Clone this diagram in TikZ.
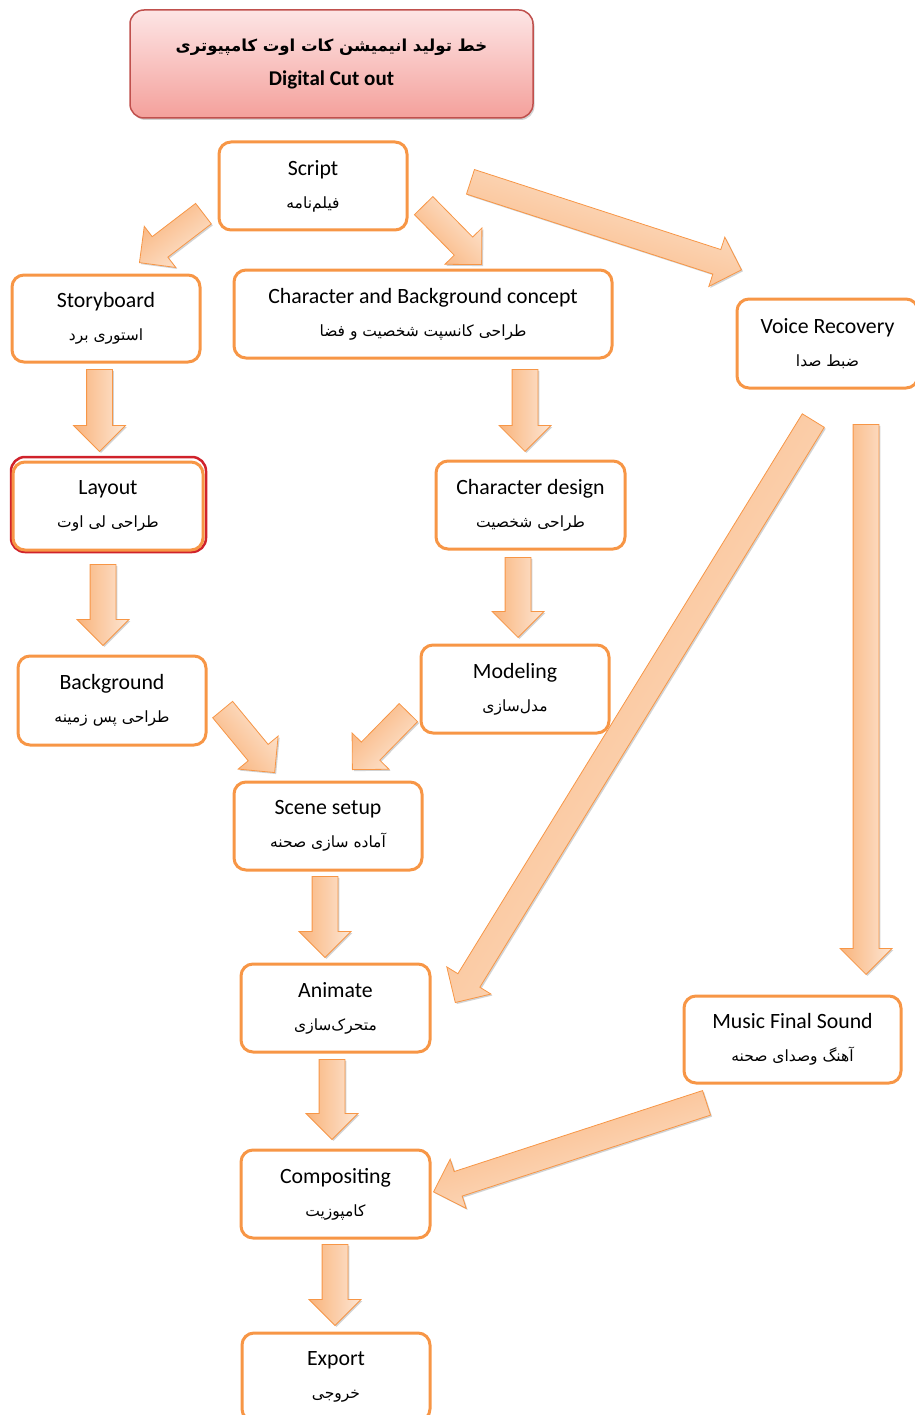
\documentclass[tikz,border=0pt]{standalone}
\usepackage{fontspec}
\setmainfont{Carlito}
\newfontfamily\fafont[Script=Arabic]{DejaVu Sans}
\TeXXeTstate=1
\usetikzlibrary{shapes.arrows,shadows,calc}

\definecolor{boxorange}{HTML}{F79646}
\definecolor{arrdark}{HTML}{F9B37B}
\definecolor{arrlight}{HTML}{FDE6D3}
\definecolor{titletop}{HTML}{FDE5E5}
\definecolor{titlebot}{HTML}{F4A09B}
\definecolor{titleline}{HTML}{C0504D}
\definecolor{layoutred}{HTML}{D0222B}

\newcommand{\fa}[1]{{\fafont\fontsize{15.5}{20}\selectfont\beginR #1\endR}}
\newcommand{\blockarr}[2]{%
  \path let \p1=($(#2)-(#1)$), \n1={veclen(\x1,\y1)}, \n2={atan2(\y1,\x1)-180} in
    (#1) -- node[bigarrow, shading angle=\n2, sloped, allow upside down, pos=1, anchor=tip,
      minimum height=\n1] {} (#2);
}

\tikzset{
  stepbox/.style={draw=boxorange, line width=3pt, rounded corners=12pt, fill=white,
    align=center, inner sep=0pt, font=\fontsize{21.8}{33}\selectfont},
  bigarrow/.style={single arrow, draw=boxorange, line width=0.8pt,
    top color=arrdark, bottom color=arrlight, inner xsep=0pt, inner ysep=12.5pt,
    minimum width=0pt, single arrow head extend=13pt,
    drop shadow={shadow xshift=1.5pt, shadow yshift=-1.5pt, fill=black!35}}
}

\begin{document}
\begin{tikzpicture}[x=1pt, y=-1pt]
\useasboundingbox (0,0) rectangle (914,1415);
% заголовок
\node [draw=titleline, line width=1.5pt, rounded corners=14pt, top color=titletop, bottom color=titlebot,
  minimum width=403, minimum height=108, align=center, inner sep=0pt,
  drop shadow={shadow xshift=1.5pt, shadow yshift=-2pt, fill=black!35}] (title) at (331.5,64)
  {{\fafont\bfseries\fontsize{16.5}{24}\selectfont\beginR خط تولید انیمیشن کات اوت کامپیوتری\endR}\\[14pt]
   {\bfseries\fontsize{21}{24}\selectfont Digital Cut out}};
% блоки
\node [stepbox, minimum width=188, minimum height=88] (script) at (313,186) {Script\\ \fa{فیلم‌نامه}};
\node [stepbox, minimum width=188, minimum height=87] (story) at (106,318.5) {Storyboard\\ \fa{استوری برد}};
\node [stepbox, minimum width=378, minimum height=88] (concept) at (423,314)
  {Character and Background concept\\ \fa{طراحی کانسپت شخصیت و فضا}};
\node [stepbox, minimum width=181, minimum height=89] (voice) at (827.5,343.5) {Voice Recovery\\ \fa{ضبط صدا}};
\draw [layoutred, line width=2.5pt, rounded corners=14pt] (11,457) rectangle (206,552);
\node [stepbox, minimum width=190, minimum height=88] (layout) at (108,506) {Layout\\ \fa{طراحی لی اوت}};
\node [stepbox, minimum width=189, minimum height=88] (chardesign) at (530.5,505) {Character design\\ \fa{طراحی شخصیت}};
\node [stepbox, minimum width=188, minimum height=89] (backgr) at (112,700.5) {Background\\ \fa{طراحی پس زمینه}};
\node [stepbox, minimum width=188, minimum height=88] (modeling) at (515,689) {Modeling\\ \fa{مدل‌سازی}};
\node [stepbox, minimum width=188, minimum height=88] (scene) at (328,826) {Scene setup\\ \fa{آماده سازی صحنه}};
\node [stepbox, minimum width=189, minimum height=88] (animate) at (335.5,1008) {Animate\\ \fa{متحرک‌سازی}};
\node [stepbox, minimum width=217, minimum height=87] (music) at (792.5,1039.5) {Music Final Sound\\ \fa{آهنگ وصدای صحنه}};
\node [stepbox, minimum width=189, minimum height=88] (compos) at (335.5,1194) {Compositing\\ \fa{کامپوزیت}};
\node [stepbox, minimum width=188, minimum height=88] (export) at (336,1377) {Export\\ \fa{خروجی}};
% стрелки
\foreach \nm/\xa/\ya/\xb/\yb in {
  script-story/203/214/139/263, script-concept/424/206/482/265, script-voice/471/182/742/270,
  story-layout/99.5/370/99.5/452, concept-chardesign/525/370/525/452,
  layout-backgr/103/565/103/646, chardesign-modeling/518/558/518/638,
  backgr-scene/223/710/275/773, modeling-scene/408/713/352/770,
  voice-animate/813/421/455/1003, voice-music/866/425/866/975,
  scene-animate/325/877/325/958, animate-compos/332/1060/332/1140,
  music-compos/706/1103/433/1192, compos-export/335/1245/335/1326}
{
  \coordinate (\nm-s) at (\xa,\ya);
  \coordinate (\nm-e) at (\xb,\yb);
  \blockarr{\nm-s}{\nm-e}
}
\end{tikzpicture}
\end{document}
